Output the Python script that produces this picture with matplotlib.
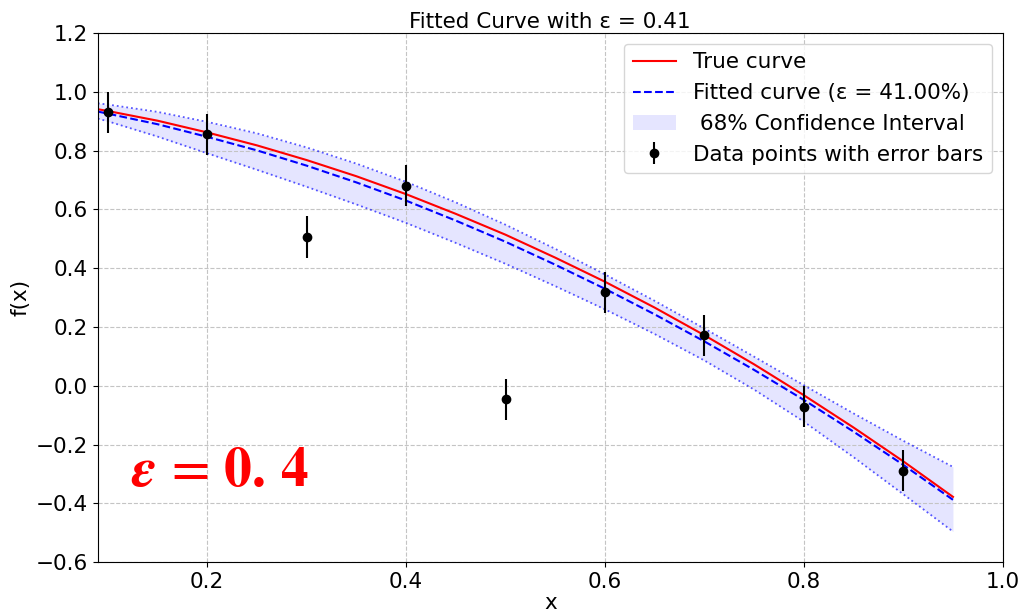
import matplotlib
matplotlib.use("Agg")
import matplotlib.pyplot as plt
import numpy as np

plt.rcParams["mathtext.fontset"] = "stix"

# Data points with error bars
x_data = [0.1, 0.2, 0.3, 0.4, 0.5, 0.6, 0.7, 0.8, 0.9]
y_data = [0.931, 0.856, 0.506, 0.681, -0.046, 0.318, 0.172, -0.071, -0.289]
y_err = [0.07, 0.07, 0.07, 0.07, 0.07, 0.07, 0.07, 0.07, 0.07]

# Curves
x_curve = [0.09, 0.10, 0.15, 0.20, 0.25, 0.30, 0.35, 0.40, 0.45, 0.50,
           0.55, 0.60, 0.65, 0.70, 0.75, 0.80, 0.85, 0.90, 0.95]
y_true = [0.941, 0.935, 0.902, 0.862, 0.818, 0.768, 0.713, 0.652, 0.585, 0.514,
          0.436, 0.354, 0.266, 0.172, 0.073, -0.032, -0.142, -0.257, -0.378]
y_fit = [0.933, 0.926, 0.890, 0.847, 0.801, 0.749, 0.692, 0.630, 0.562, 0.490,
         0.412, 0.330, 0.243, 0.151, 0.054, -0.048, -0.156, -0.269, -0.388]
y_upper = [0.961, 0.957, 0.932, 0.898, 0.859, 0.811, 0.756, 0.694, 0.624, 0.548,
           0.466, 0.379, 0.289, 0.195, 0.099, 0.002, -0.094, -0.187, -0.276]
y_lower = [0.909, 0.900, 0.848, 0.791, 0.735, 0.677, 0.617, 0.554, 0.486, 0.415,
           0.339, 0.260, 0.176, 0.086, -0.013, -0.122, -0.243, -0.369, -0.496]

title = "Fitted Curve with ε = 0.41"
xlabel = "x"
ylabel = "f(x)"

FS = 15.5
fig = plt.figure(figsize=(10.19, 6.13), dpi=100)
ax = fig.add_axes([0.096, 0.083, 0.888, 0.863])

ax.plot(x_curve, y_true, color="red", lw=1.5, label="True curve")
ax.plot(x_curve, y_fit, color="blue", ls="--", lw=1.5, label="Fitted curve (ε = 41.00%)")
ax.fill_between(x_curve, y_lower, y_upper, color="blue", alpha=0.1, lw=0,
                label=" 68% Confidence Interval")
ax.plot(x_curve, y_upper, color="blue", ls=":", lw=1.3, alpha=0.65)
ax.plot(x_curve, y_lower, color="blue", ls=":", lw=1.3, alpha=0.65)
ax.errorbar(x_data, y_data, yerr=y_err, fmt="o", color="black", ms=6,
            elinewidth=1.5, capsize=0, label="Data points with error bars")

ax.set_xlim(0.09, 1.0)
ax.set_ylim(-0.6, 1.2)
ax.set_yticks(np.arange(-0.6, 1.21, 0.2))
ax.set_xticks([0.2, 0.4, 0.6, 0.8, 1.0])
ax.tick_params(labelsize=FS)
ax.grid(True, ls="--", color="#c4c4c4", lw=0.8)

ax.set_title(title, fontsize=FS, pad=4)
ax.set_xlabel(xlabel, fontsize=FS, labelpad=1)
ax.set_ylabel(ylabel, fontsize=FS)

ax.legend(loc="upper right", fontsize=FS)

ax.text(0.123, -0.29, r"$\boldsymbol{\epsilon}\,=\,\mathbf{0.\,4}$", color="red",
        fontsize=40, ha="left", va="center")

fig.savefig("out.png", dpi=100)
